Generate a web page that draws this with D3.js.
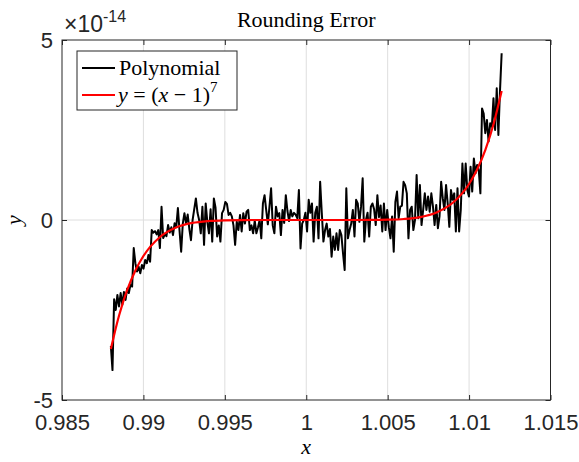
<!DOCTYPE html>
<html>
<head>
<meta charset="utf-8">
<script src="https://cdn.jsdelivr.net/npm/d3@7"></script>
<style>
  html, body { margin: 0; padding: 0; background: #fff; }
  svg { display: block; }
</style>
</head>
<body>
<div id="svg"></div>
<script>
/*
 * Chart values.
 * y values are in units of 1e-14.
 */
var xTicks = [0.985, 0.99, 0.995, 1, 1.005, 1.01, 1.015]
  , xTickLabels = ['0.985', '0.99', '0.995', '1', '1.005', '1.01', '1.015']
  , yTicks = [-5, 0, 5]
  , yTickLabels = ['-5', '0', '5']
  , xDomain = [0.985, 1.015]
  , yDomain = [-5, 5]
  , polyRange = [0.988, 1.012];

// black "Polynomial" series, evenly spaced over polyRange
var polyVals = [
  -3.5, -4.17, -2.2, -2.5, -2.08, -2.4, -2.03, -2.36, -2.0, -2.22,
  -1.9, -2.03, -1.8, -1.85, -0.78, -1.2, -1.43, -1.3, -1.48, -1.25,
  -1.35, -1.11, -1.2, -0.97, -1.16, -0.28, -0.35, -0.31, -0.4, -0.28,
  -0.78, 0.37, -0.5, -0.4, -0.45, -0.14, -0.35, -0.2, -0.42, -0.09,
  -0.2, 0.33, -0.3, -0.88, -0.1, 0.19, -0.1, 0.15, -0.25, -0.56,
  0.0, 0.3,
  0.6, 0.2, 0.0, -0.37, 0.37, -0.69, 0.46, -0.05, -0.37, 0.3,
  -0.6, 0.6, 0.35, -0.46, -0.15, -0.6, 0.19, 0.28, 0.5, 0.45,
  0.14, 0.2, 0.1, -0.15, -0.69, -0.05, -0.28, 0.14, -0.32, 0.19,
  -0.1, 0.23, 0.28, -0.28, -0.15, -0.37, -0.02, -0.37, -0.2, 0.0,
  -0.51, 0.46, 0.69, 0.28, -0.12, 0.37, 0.88, -0.15, -0.37, 0.37,
  0.1, 0.19, -0.42, 0.28, -0.08, 0.69, 0.25, -0.03, 0.28, 0.1,
  0.2, 0.15, 0.05, 0.83, -0.79, -0.1, 0.0, 0.2, -0.32, 0.56,
  0.2, 0.46, -0.6, 0.2, 0.37, -0.51, 1.06, 0.2, -0.6, -0.28,
  -0.1, -0.46, -0.25, -1.02, -0.46, -0.83, -0.37, -0.83, -0.28, -0.42,
  -0.93, -1.39, 0.88, -0.51, -0.28, -0.1, 0.28, -0.46, 0.56, 0.46,
  -0.05, 0.37, 1.16, -0.6, 0.0, 0.2, -0.46, 0.37, 0.46, 0.3,
  -0.14, 0.69, 0.08, 0.4, -0.32, 0.46,
  -0.28, 0.28, -0.2, -0.51, 0.1, -0.88, 0.5, 0.79, 0.05, 0.37,
  0.4, 1.06, 0.97, 0.74, -0.51, 0.28, 0.37, -0.28, 0.0, 1.25,
  0.05, 0.97, -0.14, 0.28, 0.74, 0.28, 0.65, 0.23, 0.74, 0.37,
  -0.14, 0.42, -0.23, 0.1, 1.06, 0.6, 0.28, 0.97, 0.46, -0.19,
  0.83, 0.56, 0.74, -0.32,
  0.88, -0.32, 0.28, 1.57, 0.74, 1.57, 0.83, 0.65, 1.48, 0.79,
  1.71, 1.3, 1.53, 1.39, 0.74, 3.1, 2.96, 2.41, 2.78, 2.18,
  2.69, 2.59, 3.38, 2.5, 3.66, 2.36, 3.6, 4.63
];

// red y = (x-1)^7 curve
var redX = [0.988, 0.9885, 0.989, 0.9895, 0.990, 0.991, 0.992, 0.993, 0.994,
            0.995, 0.996, 0.998, 1.0, 1.002, 1.004, 1.005, 1.006, 1.007,
            1.008, 1.009, 1.010, 1.0105, 1.011, 1.0115, 1.012]
  , redY = [-3.583, -2.660, -1.949, -1.407, -1.0, -0.478, -0.210, -0.082, -0.028,
            -0.008, -0.002, 0, 0, 0, 0.002, 0.008, 0.028, 0.082,
            0.210, 0.478, 1.0, 1.407, 1.949, 2.660, 3.583];


/*
 * Sizes and the svg itself.
 */
var width = 579
  , height = 462
  , plot = {left: 62, right: 550.5, top: 40, bottom: 400}
  , axisColor = '#262626'
  , sans = '"Liberation Sans", Arial, Helvetica, sans-serif'
  , serif = '"Liberation Serif", "Times New Roman", serif';

var svg = d3.select('#svg').append('svg')
  .attr('width', width)
  .attr('height', height)
  .style('background', '#fff');

var x = d3.scaleLinear().domain(xDomain).range([plot.left, plot.right])
  , y = d3.scaleLinear().domain(yDomain).range([plot.bottom, plot.top])
  , idx = d3.scaleLinear().domain([0, polyVals.length - 1]).range(polyRange);


/*
 * Grid lines.
 */
var grid = svg.append('g')
  .attr('stroke', '#dedede')
  .attr('stroke-width', 1);

grid.selectAll('line.gx')
  .data(xTicks.slice(1, -1))
  .enter().append('line')
  .attr('x1', function(d) { return x(d); })
  .attr('x2', function(d) { return x(d); })
  .attr('y1', plot.top)
  .attr('y2', plot.bottom);

grid.selectAll('line.gy')
  .data(yTicks.slice(1, -1))
  .enter().append('line')
  .attr('x1', plot.left)
  .attr('x2', plot.right)
  .attr('y1', function(d) { return y(d); })
  .attr('y2', function(d) { return y(d); });


/*
 * Data lines: black noisy polynomial then red curve on top.
 */
var polyLine = d3.line()
  .x(function(d, i) { return x(idx(i)); })
  .y(function(d) { return y(d); });

svg.append('path')
  .datum(polyVals)
  .attr('fill', 'none')
  .attr('stroke', '#000')
  .attr('stroke-width', 2)
  .attr('stroke-linejoin', 'round')
  .attr('d', polyLine);

var redLine = d3.line()
  .curve(d3.curveMonotoneX)
  .x(function(d, i) { return x(redX[i]); })
  .y(function(d) { return y(d); });

svg.append('path')
  .datum(redY)
  .attr('fill', 'none')
  .attr('stroke', '#ff0000')
  .attr('stroke-width', 2.2)
  .attr('d', redLine);


/*
 * Axes: box on, ticks inside on all four sides.
 */
function styleAxis(g) {
  g.select('.domain').remove();
  g.selectAll('.tick line').attr('stroke', axisColor);
  g.selectAll('.tick text')
    .attr('fill', axisColor)
    .style('font-family', sans)
    .style('font-size', '22px');
}

svg.append('g')
  .attr('transform', 'translate(0,' + plot.bottom + ')')
  .call(d3.axisBottom(x).tickValues(xTicks).tickSizeInner(-5).tickSizeOuter(0)
    .tickPadding(14)
    .tickFormat(function(d, i) { return xTickLabels[i]; }))
  .call(styleAxis);

svg.append('g')
  .attr('transform', 'translate(0,' + plot.top + ')')
  .call(d3.axisTop(x).tickValues(xTicks).tickSizeInner(-5).tickSizeOuter(0)
    .tickFormat(''))
  .call(styleAxis);

svg.append('g')
  .attr('transform', 'translate(' + plot.left + ',0)')
  .call(d3.axisLeft(y).tickValues(yTicks).tickSizeInner(-5).tickSizeOuter(0)
    .tickPadding(9)
    .tickFormat(function(d, i) { return yTickLabels[i]; }))
  .call(styleAxis);

svg.append('g')
  .attr('transform', 'translate(' + plot.right + ',0)')
  .call(d3.axisRight(y).tickValues(yTicks).tickSizeInner(-5).tickSizeOuter(0)
    .tickFormat(''))
  .call(styleAxis);

svg.append('rect')
  .attr('x', plot.left)
  .attr('y', plot.top)
  .attr('width', plot.right - plot.left)
  .attr('height', plot.bottom - plot.top)
  .attr('fill', 'none')
  .attr('stroke', axisColor)
  .attr('stroke-width', 1);


/*
 * Exponent label, title and axis labels.
 */
var expo = svg.append('text')
  .attr('x', plot.left + 2)
  .attr('y', 32)
  .attr('fill', axisColor)
  .style('font-family', sans)
  .style('font-size', '23px');
expo.append('tspan').text('\u00d7');
expo.append('tspan').text('10');
expo.append('tspan').attr('dy', -10).style('font-size', '16px').text('-14');

svg.append('text')
  .attr('x', (plot.left + plot.right) / 2)
  .attr('y', 27)
  .attr('text-anchor', 'middle')
  .style('font-family', serif)
  .style('font-size', '22px')
  .text('Rounding Error');

svg.append('text')
  .attr('x', (plot.left + plot.right) / 2)
  .attr('y', 454)
  .attr('text-anchor', 'middle')
  .style('font-family', serif)
  .style('font-style', 'italic')
  .style('font-size', '22px')
  .text('x');

svg.append('text')
  .attr('transform', 'translate(21,' + y(0) + ') rotate(-90)')
  .attr('text-anchor', 'middle')
  .style('font-family', serif)
  .style('font-style', 'italic')
  .style('font-size', '22px')
  .text('y');


/*
 * Legend.
 */
var legend = svg.append('g');

legend.append('rect')
  .attr('x', 77)
  .attr('y', 51)
  .attr('width', 160)
  .attr('height', 59)
  .attr('fill', '#fff')
  .attr('stroke', axisColor)
  .attr('stroke-width', 1);

legend.append('line')
  .attr('x1', 82).attr('x2', 115)
  .attr('y1', 68).attr('y2', 68)
  .attr('stroke', '#000')
  .attr('stroke-width', 2);

legend.append('text')
  .attr('x', 119)
  .attr('y', 75)
  .style('font-family', serif)
  .style('font-size', '22px')
  .text('Polynomial');

legend.append('line')
  .attr('x1', 82).attr('x2', 115)
  .attr('y1', 95).attr('y2', 95)
  .attr('stroke', '#ff0000')
  .attr('stroke-width', 2);

var eq = legend.append('text')
  .attr('x', 118)
  .attr('y', 102)
  .style('font-family', serif)
  .style('font-size', '22px');
eq.append('tspan').style('font-style', 'italic').text('y');
eq.append('tspan').text(' = (');
eq.append('tspan').style('font-style', 'italic').text('x');
eq.append('tspan').text(' \u2212 1)');
eq.append('tspan').attr('dy', -10).style('font-size', '15px').text('7');
</script>
</body>
</html>
